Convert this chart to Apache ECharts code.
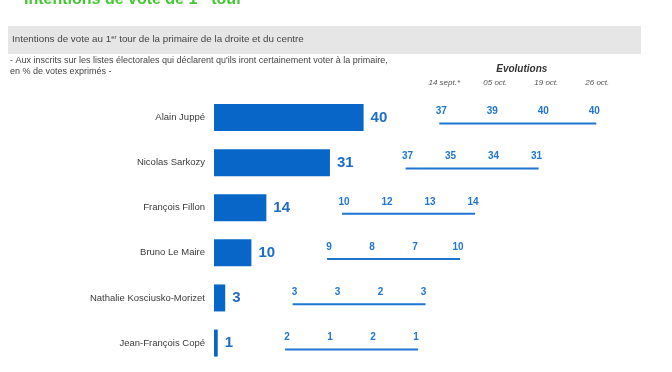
<!DOCTYPE html>
<html>
<head>
<meta charset="utf-8">
<script src="https://cdn.jsdelivr.net/npm/echarts@6/dist/echarts.min.js"></script>
<style>
html,body{margin:0;padding:0;background:#fff;}
#c{width:672px;height:372px;}
</style>
</head>
<body>
<div id="c"></div>
<script>
// ---- data ----
var candidates = ['Alain Juppé', 'Nicolas Sarkozy', 'François Fillon', 'Bruno Le Maire', 'Nathalie Kosciusko-Morizet', 'Jean-François Copé'];
var current = [40, 31, 14, 10, 3, 1];
var evo14sept = [37, 37, 10, 9, 3, 2];
var evo05oct = [39, 35, 12, 8, 3, 1];
var evo19oct = [40, 34, 13, 7, 2, 2];
var evo26oct = [40, 31, 14, 10, 3, 1];
var evoDates = ['14 sept.*', '05 oct.', '19 oct.', '26 oct.'];

// ---- layout (not data) ----
var evoStep = [51, 43, 43, 43, 43, 43];
var FONT = '"Liberation Sans", Arial, sans-serif';
var BLUE = '#0766c8';
var EVO_BLUE = '#1f76d2';

var evoData = candidates.map(function (c, i) {
  return [i, current[i], evo14sept[i], evo05oct[i], evo19oct[i], evo26oct[i]];
});

function renderEvo(params, api) {
  var row = api.value(0);
  var bv = api.value(1);
  var p = api.coord([bv, row]);
  var digits = String(bv).length;
  var x0 = p[0] + 7 + digits * 8.34 + 54;
  var step = evoStep[row];
  var ly = p[1];
  var children = [];
  for (var k = 0; k < 4; k++) {
    children.push({
      type: 'text',
      style: {
        x: x0 + k * step, y: ly - 12,
        text: String(api.value(2 + k)),
        fill: EVO_BLUE, font: 'bold 10px ' + FONT,
        align: 'center', verticalAlign: 'middle'
      }
    });
  }
  children.push({
    type: 'line',
    shape: { x1: x0 - 2, y1: ly, x2: x0 + 3 * step + 2, y2: ly },
    style: { stroke: EVO_BLUE, lineWidth: 2 }
  });
  if (row === 0) {
    for (var d = 0; d < evoDates.length; d++) {
      children.push({
        type: 'text',
        style: {
          x: x0 + d * step + 3, y: ly - 41,
          text: evoDates[d], fill: '#555',
          font: 'italic 8px ' + FONT, align: 'center', verticalAlign: 'middle'
        }
      });
    }
    children.push({
      type: 'text',
      style: {
        x: x0 + 1.5 * step + 4, y: ly - 54,
        text: 'Evolutions', fill: '#333',
        font: 'italic bold 10px ' + FONT, align: 'center', verticalAlign: 'middle'
      }
    });
  }
  return { type: 'group', children: children };
}

var chart = echarts.init(document.getElementById('c'), null, { renderer: 'canvas' });
chart.setOption({
  animation: false,
  backgroundColor: '#fff',
  graphic: [
    {
      type: 'text', left: 24, top: -8, z: 10,
      style: {
        text: '{a|Intentions de vote de 1}{s|er}{a| tour}',
        rich: {
          a: { fontSize: 16, fontWeight: 'bold', fontFamily: FONT, fill: '#45c733', color: '#45c733' },
          s: { fontSize: 10, fontWeight: 'bold', fontFamily: FONT, fill: '#45c733', color: '#45c733', verticalAlign: 'top' }
        }
      }
    },
    {
      type: 'rect', shape: { x: 8, y: 26, width: 633, height: 28 },
      style: { fill: '#e6e6e6' }, z: 0
    },
    {
      type: 'text', left: 12, top: 34, z: 10,
      style: {
        text: '{a|Intentions de vote au 1}{s|er}{a| tour de la primaire de la droite et du centre}',
        rich: {
          a: { fontSize: 9.8, fontFamily: FONT, fill: '#444', color: '#444' },
          s: { fontSize: 6, fontFamily: FONT, fill: '#444', color: '#444', verticalAlign: 'top' }
        }
      }
    },
    {
      type: 'text', left: 10, top: 55.5, z: 10,
      style: {
        text: "- Aux inscrits sur les listes électorales qui déclarent qu'ils iront certainement voter à la primaire,\nen % de votes exprimés -",
        font: '9px ' + FONT, fill: '#444', lineHeight: 11
      }
    }
  ],
  grid: [
    { left: 214, top: 95, width: 374, height: 270.6 },
    { left: 214, top: 100.8, width: 374, height: 278.4 }
  ],
  xAxis: [
    { type: 'value', gridIndex: 0, min: 0, max: 100, show: false },
    { type: 'value', gridIndex: 1, min: 0, max: 100, show: false }
  ],
  yAxis: [
    {
      type: 'category', gridIndex: 0, data: candidates, inverse: true,
      axisLine: { show: false }, axisTick: { show: false },
      axisLabel: { margin: 9, color: '#3a3a3a', fontSize: 9.5, fontFamily: FONT }
    },
    { type: 'category', gridIndex: 1, data: candidates, inverse: true, show: false }
  ],
  series: [
    {
      type: 'bar', xAxisIndex: 0, yAxisIndex: 0, data: current,
      barWidth: 27, itemStyle: { color: BLUE },
      label: {
        show: true, position: 'right', distance: 7,
        color: '#1e6ec8', fontSize: 15, fontWeight: 'bold', fontFamily: FONT
      }
    },
    {
      type: 'custom', xAxisIndex: 1, yAxisIndex: 1, data: evoData,
      encode: { x: 1, y: 0 }, clip: false, renderItem: renderEvo
    }
  ]
});
</script>
</body>
</html>
